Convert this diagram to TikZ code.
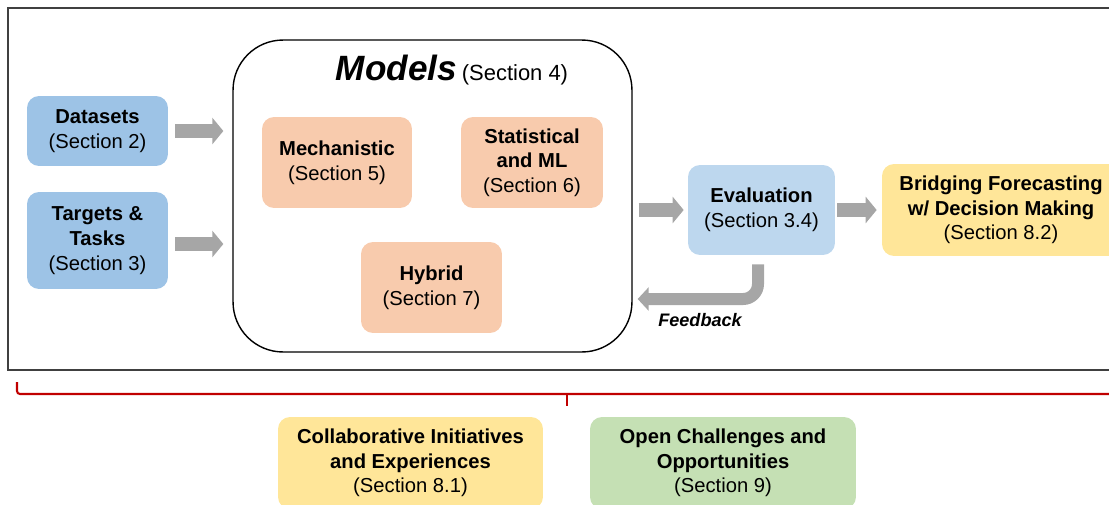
\documentclass[tikz,border=0pt]{standalone}
\usepackage{xcolor}
\usepackage{fontspec}
\setmainfont{Liberation Sans}
\usetikzlibrary{arrows.meta}

\definecolor{dataBlue}{HTML}{9DC3E6}
\definecolor{evalBlue}{HTML}{BDD7EE}
\definecolor{modelPeach}{HTML}{F8CBAD}
\definecolor{bridgeYellow}{HTML}{FFE699}
\definecolor{openGreen}{HTML}{C5E0B4}
\definecolor{braceRed}{HTML}{C00000}
\definecolor{arrowGray}{HTML}{A6A6A6}
\definecolor{frameGray}{HTML}{404040}

\begin{document}
\begin{tikzpicture}[x=0.02cm, y=-0.02cm,
  box/.style={rounded corners=0.24cm, align=center, inner sep=0pt,
    font=\fontsize{11.5}{14}\selectfont},
  blockarrow/.style={draw=arrowGray, line width=0.28cm,
    -{Triangle[length=0.22cm,width=0.52cm]}},
  feedarrow/.style={draw=arrowGray, line width=0.24cm, rounded corners=0.3cm,
    -{Triangle[length=0.22cm,width=0.46cm]}}]
  \useasboundingbox (0,0) rectangle (1109,504);

  % outer frame
  \draw[frameGray, line width=0.8pt] (8,8) rectangle (1130,370);

  % inputs
  \node[box, fill=dataBlue, minimum width=2.82cm, minimum height=1.4cm]
    (data) at (97.5,131) {\textbf{Datasets}\\(Section 2)};
  \node[box, fill=dataBlue, minimum width=2.82cm, minimum height=1.94cm]
    (target) at (97.5,240.5) {\textbf{Targets \&}\\\textbf{Tasks}\\(Section 3)};

  % models
  \node[draw, line width=0.8pt, rounded corners=1cm, minimum width=7.98cm,
    minimum height=6.24cm] (models) at (432.5,196) {};
  \node (title) at (452,70) {{\fontsize{20}{24}\selectfont\textbf{\textit{Models}}}
    {\fontsize{12.5}{14}\selectfont(Section 4)}};
  \node[box, fill=modelPeach, minimum width=3cm, minimum height=1.82cm]
    (mech) at (337,162.5) {\textbf{Mechanistic}\\(Section 5)};
  \node[box, fill=modelPeach, minimum width=2.84cm, minimum height=1.82cm]
    (stat) at (532,162.5) {\textbf{Statistical}\\\textbf{and ML}\\(Section 6)};
  \node[box, fill=modelPeach, minimum width=2.82cm, minimum height=1.82cm]
    (hybrid) at (431.5,287.5) {\textbf{Hybrid}\\(Section 7)};

  % evaluation and decision making
  \node[box, fill=evalBlue, minimum width=2.94cm, minimum height=1.8cm]
    (eval) at (761.5,210) {\textbf{Evaluation}\\(Section 3.4)};
  \node[box, fill=bridgeYellow, minimum width=4.76cm, minimum height=1.84cm]
    (bridge) at (1001,210) {\textbf{Bridging Forecasting}\\\textbf{w/ Decision Making}\\(Section 8.2)};

  % bottom
  \node[box, fill=bridgeYellow, minimum width=5.3cm, minimum height=1.84cm]
    (collab) at (410.5,463) {\textbf{Collaborative Initiatives}\\\textbf{and Experiences}\\(Section 8.1)};
  \node[box, fill=openGreen, minimum width=5.32cm, minimum height=1.84cm]
    (open) at (723,463) {\textbf{Open Challenges and}\\\textbf{Opportunities}\\(Section 9)};

  % arrows
  \draw[blockarrow, shorten <=0.14cm, shorten >=0.18cm] (data.east) -- (data.east -| models.west);
  \draw[blockarrow, shorten <=0.14cm, shorten >=0.18cm] (target.east |- 0,244) -- (models.west |- 0,244);
  \draw[blockarrow, shorten <=0.12cm, shorten >=0.08cm] (models.east |- eval.west) -- (eval.west);
  \draw[blockarrow, shorten <=0.04cm, shorten >=0.1cm] (eval.east) -- (bridge.west);
  \coordinate (fb) at (models.east |- 0,299);
  \draw[feedarrow, shorten <=0.18cm, shorten >=0.1cm] (eval.south) ++(-3.5,0) |- (fb);
  \node[font=\fontsize{10.3}{12}\selectfont\bfseries\itshape] (feedback) at (700,320) {Feedback};

  % brace
  \draw[braceRed, line width=1.2pt, rounded corners=0.06cm] (17,382) -- (17,394) -- (1130,394);
  \draw[braceRed, line width=1.2pt] (567,394) -- (567,406);
\end{tikzpicture}
\end{document}
